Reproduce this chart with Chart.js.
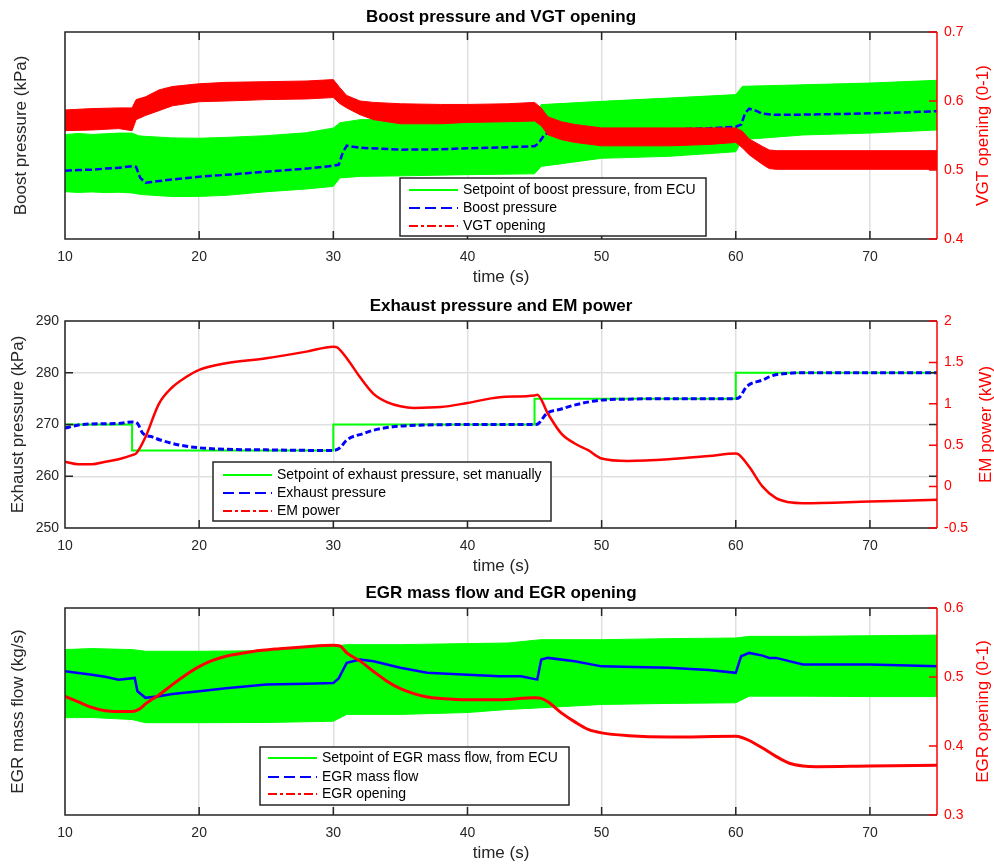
<!DOCTYPE html>
<html>
<head>
<meta charset="utf-8">
<script src="https://cdn.jsdelivr.net/npm/chart.js@4.4.1/dist/chart.umd.min.js"></script>
<style>
  body { margin: 0; background: #fff; }
  .panel { position: absolute; left: 0; width: 994px; height: 288px; }
</style>
</head>
<body>
<div class="panel" style="top:0"><canvas id="boost" width="994" height="288"></canvas></div>
<div class="panel" style="top:289px"><canvas id="exhaust" width="994" height="288"></canvas></div>
<div class="panel" style="top:576px"><canvas id="egr" width="994" height="288"></canvas></div>
<script>
// ---- boost pressure / VGT ----
const boostSetTime = [10, 11, 12, 13, 14, 15, 15.5, 16, 18, 20, 22, 25, 28, 30, 30.5, 32, 35, 40, 45, 45.5, 50, 55, 60, 60.5, 65, 70, 75];
const boostSetHigh = [180.5, 181.2, 180.6, 181.0, 181.4, 181.4, 179.8, 179.5, 178.6, 178.4, 178.9, 179.9, 181.6, 184.3, 187.4, 189.2, 189.3, 189.6, 190.2, 197.9, 199.8, 201.7, 203.7, 208.5, 209.4, 210.4, 212.0];
const boostSetLow = [147.4, 147.0, 147.3, 146.9, 147.1, 146.7, 146.0, 145.6, 144.6, 144.7, 145.3, 147.4, 149.0, 150.5, 155.4, 156.3, 156.6, 157.3, 157.8, 162.1, 166.8, 167.9, 170.6, 177.6, 180.3, 181.4, 183.2];

const boostTime = [10, 11, 12, 13, 14, 15, 15.3, 15.6, 16, 17, 18, 20, 22, 25, 28, 30, 30.4, 30.7, 31, 32, 35, 38, 40, 43, 45, 45.3, 45.7, 46, 48, 50, 55, 58, 60, 60.4, 60.7, 61, 61.5, 62, 63, 65, 68, 70, 73, 75];
const boostKpa = [159.6, 160.0, 160.2, 160.8, 161.3, 162.2, 161.8, 155.5, 152.6, 153.6, 154.5, 156.1, 157.2, 159.0, 160.8, 162.5, 163.0, 170.0, 174.1, 172.9, 171.8, 172.0, 172.6, 173.2, 173.8, 175.5, 180.0, 181.6, 181.8, 182.2, 183.4, 184.2, 185.1, 186.3, 193.0, 195.5, 194.4, 192.6, 192.0, 192.1, 192.5, 192.9, 193.5, 194.1];

const vgtTime = [10, 12, 14, 15, 15.3, 16, 17, 18, 20, 22, 25, 28, 30, 30.5, 31, 32, 33, 35, 38, 40, 43, 45, 45.5, 46, 47, 48, 50, 55, 58, 60, 60.5, 61, 62, 62.5, 63, 65, 70, 75];
const vgtHigh = [0.587, 0.589, 0.590, 0.590, 0.602, 0.606, 0.616, 0.621, 0.625, 0.627, 0.628, 0.629, 0.631, 0.619, 0.608, 0.600, 0.598, 0.596, 0.595, 0.595, 0.596, 0.598, 0.590, 0.577, 0.570, 0.566, 0.561, 0.561, 0.561, 0.561, 0.556, 0.545, 0.534, 0.529, 0.528, 0.528, 0.528, 0.528];
const vgtLow = [0.557, 0.558, 0.560, 0.557, 0.573, 0.579, 0.586, 0.593, 0.599, 0.600, 0.602, 0.603, 0.605, 0.596, 0.590, 0.580, 0.573, 0.567, 0.567, 0.569, 0.570, 0.571, 0.564, 0.551, 0.544, 0.540, 0.535, 0.535, 0.537, 0.540, 0.532, 0.522, 0.508, 0.502, 0.501, 0.501, 0.501, 0.501];

// ---- exhaust pressure / EM power ----
const exhSetTime = [10, 15, 30, 45, 60, 75];
const exhSetKpa = [270, 265, 270, 275, 280, 280];

const exhTime = [10, 11, 12, 14, 15, 15.4, 15.8, 16.5, 17.1, 18.6, 20, 22, 25, 28, 30, 30.5, 31, 32.3, 33, 34, 35, 37, 40, 45, 45.3, 45.9, 47, 47.9, 49.9, 52, 55, 60, 60.3, 60.8, 62, 62.8, 64, 65, 70, 75];
const exhKpa = [269.3, 269.9, 270.1, 270.2, 270.5, 270.2, 268.3, 267.6, 267.0, 266.0, 265.5, 265.2, 265.1, 265.0, 265.0, 265.5, 267.0, 268.3, 268.9, 269.4, 269.7, 269.9, 270.0, 270.0, 270.2, 272.1, 273.0, 273.7, 274.7, 274.9, 275.0, 275.0, 275.3, 277.3, 278.6, 279.5, 279.9, 280.0, 280.0, 280.0];

const emTime = [10, 11, 12, 13, 14, 15, 15.3, 16, 17, 18, 19, 20, 22, 25, 28, 30, 30.3, 31, 32, 33, 34, 35, 36, 38, 40, 42.4, 45, 45.2, 46, 47, 48, 49, 50, 52, 55, 58, 60, 60.2, 61, 62, 63, 64, 65, 70, 75];
const emKw = [0.30, 0.27, 0.27, 0.30, 0.33, 0.38, 0.40, 0.60, 1.00, 1.20, 1.32, 1.41, 1.49, 1.55, 1.63, 1.69, 1.68, 1.55, 1.32, 1.12, 1.02, 0.97, 0.95, 0.96, 1.01, 1.08, 1.10, 1.11, 0.88, 0.64, 0.52, 0.44, 0.34, 0.31, 0.33, 0.37, 0.40, 0.39, 0.24, 0.00, -0.14, -0.19, -0.20, -0.18, -0.16];

// ---- EGR mass flow / EGR opening ----
const egrSetTime = [10, 12, 15, 16, 20, 25, 30, 31, 35, 40, 43, 45.5, 50, 55, 60, 61, 65, 70, 75];
const egrSetHigh = [0.0799, 0.0804, 0.0799, 0.0791, 0.0791, 0.0794, 0.0815, 0.0823, 0.0823, 0.0828, 0.0831, 0.0847, 0.0847, 0.0852, 0.0855, 0.0863, 0.0863, 0.0866, 0.0869];
const egrSetLow = [0.0470, 0.0471, 0.0461, 0.0446, 0.0446, 0.0447, 0.0453, 0.0486, 0.0486, 0.0495, 0.0510, 0.0518, 0.0534, 0.0539, 0.0542, 0.0574, 0.0574, 0.0572, 0.0572];

const egrFlowTime = [10, 11, 12, 13, 14, 15.2, 15.4, 16, 17, 18, 20, 22, 25, 28, 30, 30.4, 31, 32, 33, 35, 37, 40, 42.4, 44, 45.2, 45.5, 46, 48, 50, 55, 58, 60, 60.4, 61, 62, 62.5, 63, 65, 70, 75];
const egrFlow = [0.0694, 0.0686, 0.0678, 0.0668, 0.0654, 0.0662, 0.0598, 0.0566, 0.0574, 0.0584, 0.0598, 0.0612, 0.0630, 0.0634, 0.0638, 0.0660, 0.0735, 0.0751, 0.0743, 0.0711, 0.0687, 0.0678, 0.0670, 0.0670, 0.0654, 0.0751, 0.0759, 0.0743, 0.0718, 0.0711, 0.0700, 0.0687, 0.0767, 0.0783, 0.0770, 0.0759, 0.0759, 0.0727, 0.0727, 0.0718];

const egrPosTime = [10, 11, 12, 13, 14, 15, 15.5, 16, 17, 18, 19, 20, 21, 22, 24, 26, 28, 30, 30.5, 31, 32, 33, 34, 35, 36, 37, 38, 40, 42.4, 45, 45.5, 46, 47, 48, 49, 50, 52, 55, 60, 60.5, 61, 62, 63, 64, 65, 66, 70, 75];
const egrPos = [0.472, 0.464, 0.456, 0.451, 0.450, 0.450, 0.453, 0.461, 0.474, 0.489, 0.503, 0.515, 0.524, 0.530, 0.537, 0.541, 0.544, 0.546, 0.545, 0.535, 0.523, 0.508, 0.494, 0.483, 0.476, 0.471, 0.469, 0.467, 0.467, 0.470, 0.469, 0.464, 0.448, 0.435, 0.424, 0.419, 0.415, 0.413, 0.414, 0.412, 0.408, 0.397, 0.385, 0.375, 0.371, 0.370, 0.371, 0.372];

const boostLabels = ["Setpoint of boost pressure, from ECU", "Boost pressure", "VGT opening"];
const exhLabels = ["Setpoint of exhaust pressure, set manually", "Exhaust pressure", "EM power"];
const egrLabels = ["Setpoint of EGR mass flow, from ECU", "EGR mass flow", "EGR opening"];

const FONT = '"Liberation Sans", Arial, Helvetica, sans-serif';
const DARK = "#262626";
const GRID = "#e0e0e0";
const GREEN = "#00ff00", BLUE = "#0000ff", RED = "#ff0000";
const DASH = [11, 5], DASHDOT = [9, 3, 3, 3];

Chart.defaults.font.family = FONT;
Chart.defaults.color = DARK;

function pts(t, v) {
  return t.map((x, i) => ({ x: x, y: v[i] }));
}

// box, inward ticks, axis titles and legend in the MATLAB look
const axesFrame = {
  id: "axesFrame",
  afterDatasetsDraw(chart, args, opts) {
    const ctx = chart.ctx;
    const { left, right, top, bottom } = chart.chartArea;
    const sx = chart.scales.x, yl = chart.scales.yl, yr = chart.scales.yr;
    ctx.save();
    ctx.lineWidth = 1.5;
    ctx.strokeStyle = DARK;
    ctx.beginPath();
    sx.ticks.forEach((tk) => {
      const px = sx.getPixelForValue(tk.value);
      ctx.moveTo(px, bottom); ctx.lineTo(px, bottom - 8);
      ctx.moveTo(px, top); ctx.lineTo(px, top + 8);
    });
    if (opts.leftTicks) {
      yl.ticks.forEach((tk) => {
        const py = yl.getPixelForValue(tk.value);
        ctx.moveTo(left, py); ctx.lineTo(left + 8, py);
        ctx.moveTo(right, py); ctx.lineTo(right - 8, py);
      });
    }
    ctx.moveTo(right, top); ctx.lineTo(left, top);
    ctx.lineTo(left, bottom); ctx.lineTo(right, bottom);
    ctx.stroke();

    ctx.strokeStyle = RED;
    ctx.beginPath();
    ctx.moveTo(right, top); ctx.lineTo(right, bottom);
    yr.ticks.forEach((tk) => {
      const py = yr.getPixelForValue(tk.value);
      ctx.moveTo(right, py); ctx.lineTo(right - 8, py);
    });
    ctx.stroke();
    ctx.restore();
  },
  afterDraw(chart, args, opts) {
    const ctx = chart.ctx;
    const { left, right, top, bottom } = chart.chartArea;
    const cy = (top + bottom) / 2;
    ctx.save();
    ctx.font = "17px " + FONT;
    ctx.textAlign = "center";
    ctx.textBaseline = "middle";
    ctx.fillStyle = DARK;
    ctx.fillText("time (s)", (left + right) / 2, 277);

    ctx.save();
    ctx.translate(opts.leftTitleX, cy);
    ctx.rotate(-Math.PI / 2);
    ctx.fillText(opts.leftTitle, 0, 0);
    ctx.restore();

    ctx.save();
    ctx.fillStyle = RED;
    ctx.translate(opts.rightTitleX, cy);
    ctx.rotate(-Math.PI / 2);
    ctx.fillText(opts.rightTitle, 0, 0);
    ctx.restore();

    // legend
    const lg = opts.legend;
    ctx.fillStyle = "#fff";
    ctx.fillRect(lg.x, lg.y, lg.w, lg.h);
    ctx.lineWidth = 1.5;
    ctx.strokeStyle = DARK;
    ctx.strokeRect(lg.x, lg.y, lg.w, lg.h);
    const styles = [[GREEN, []], [BLUE, DASH], [RED, DASHDOT]];
    ctx.font = "14px " + FONT;
    ctx.textAlign = "left";
    lg.labels.forEach((label, i) => {
      const y = lg.y + lg.rows[i];
      ctx.strokeStyle = styles[i][0];
      ctx.setLineDash(styles[i][1]);
      ctx.lineWidth = 2;
      ctx.beginPath();
      ctx.moveTo(lg.x + lg.lineX, y);
      ctx.lineTo(lg.x + lg.lineX + 49, y);
      ctx.stroke();
      ctx.setLineDash([]);
      ctx.fillStyle = "#000";
      ctx.fillText(label, lg.x + lg.lineX + 54, y);
    });
    ctx.restore();
  },
};

function fixWidth(w) {
  return (scale) => { scale.width = w; };
}

function makePanel(id, cfg) {
  return new Chart(document.getElementById(id), {
    type: "line",
    data: { datasets: cfg.datasets },
    plugins: [axesFrame],
    options: {
      responsive: false,
      animation: false,
      events: [],
      devicePixelRatio: 1,
      layout: { padding: 0 },
      elements: { point: { radius: 0 } },
      scales: {
        x: {
          type: "linear",
          min: 10,
          max: 75,
          afterBuildTicks: (s) => { s.ticks = s.ticks.filter((t) => t.value % 10 === 0); },
          afterFit: (s) => { s.height = 49; },
          ticks: { stepSize: 10, padding: 10, color: DARK, font: { size: 14 } },
          grid: { color: GRID, lineWidth: 1.5, drawTicks: false },
          border: { display: false },
        },
        yl: {
          position: "left",
          min: cfg.left.min,
          max: cfg.left.max,
          afterFit: fixWidth(65),
          ticks: {
            display: cfg.left.ticks,
            stepSize: cfg.left.step,
            padding: 6,
            color: DARK,
            font: { size: 14 },
          },
          grid: { display: cfg.left.ticks, color: GRID, lineWidth: 1.5, drawTicks: false },
          border: { display: false },
        },
        yr: {
          position: "right",
          min: cfg.right.min,
          max: cfg.right.max,
          afterFit: fixWidth(57),
          ticks: {
            stepSize: cfg.right.step,
            padding: 7,
            color: RED,
            font: { size: 14 },
            callback: (v) => String(+v.toFixed(1)),
          },
          grid: { drawOnChartArea: false, drawTicks: false },
          border: { display: false },
        },
      },
      plugins: {
        legend: { display: false },
        tooltip: { enabled: false },
        title: {
          display: true,
          fullSize: false,
          text: cfg.title,
          color: "#000",
          font: { size: 17, weight: "bold" },
          padding: { top: 7, bottom: 4.6 },
        },
        axesFrame: cfg.frame,
      },
    },
  });
}

function band(t, hi, lo, color, axis, order) {
  return [
    { data: pts(t, hi), yAxisID: axis, borderColor: color, borderWidth: 1, backgroundColor: color, fill: "+1", order: order },
    { data: pts(t, lo), yAxisID: axis, borderColor: color, borderWidth: 1, fill: false, order: order },
  ];
}

// index layout for "+1" fills: band pairs are kept adjacent
makePanel("boost", {
  title: "Boost pressure and VGT opening",
  left: { min: 120, max: 240, ticks: false },
  right: { min: 0.4, max: 0.7, step: 0.1 },
  datasets: [
    ...band(vgtTime, vgtHigh, vgtLow, RED, "yr", 0),
    { data: pts(boostTime, boostKpa), yAxisID: "yl", borderColor: BLUE, borderWidth: 2.5, borderDash: [7, 3], fill: false, order: 1 },
    ...band(boostSetTime, boostSetHigh, boostSetLow, GREEN, "yl", 2),
  ],
  frame: {
    leftTitle: "Boost pressure (kPa)", leftTitleX: 21,
    rightTitle: "VGT opening (0-1)", rightTitleX: 983,
    leftTicks: false,
    legend: { x: 400, y: 178, w: 306, h: 58, rows: [12, 30, 48], lineX: 9, labels: boostLabels },
  },
});

makePanel("exhaust", {
  title: "Exhaust pressure and EM power",
  left: { min: 250, max: 290, step: 10, ticks: true },
  right: { min: -0.5, max: 2, step: 0.5 },
  datasets: [
    { data: pts(emTime, emKw), yAxisID: "yr", borderColor: RED, borderWidth: 2.5, cubicInterpolationMode: "monotone", fill: false, order: 0 },
    { data: pts(exhTime, exhKpa), yAxisID: "yl", borderColor: BLUE, borderWidth: 3, borderDash: [6, 3], cubicInterpolationMode: "monotone", fill: false, order: 1 },
    { data: pts(exhSetTime, exhSetKpa), yAxisID: "yl", borderColor: GREEN, borderWidth: 2, stepped: true, fill: false, order: 2 },
  ],
  frame: {
    leftTitle: "Exhaust pressure (kPa)", leftTitleX: 18,
    rightTitle: "EM power (kW)", rightTitleX: 986,
    leftTicks: true,
    legend: { x: 213, y: 173, w: 338, h: 59, rows: [13, 31, 49], lineX: 10, labels: exhLabels },
  },
});

makePanel("egr", {
  title: "EGR mass flow and EGR opening",
  left: { min: 0, max: 0.1, ticks: false },
  right: { min: 0.3, max: 0.6, step: 0.1 },
  datasets: [
    { data: pts(egrPosTime, egrPos), yAxisID: "yr", borderColor: RED, borderWidth: 3, cubicInterpolationMode: "monotone", fill: false, order: 0 },
    { data: pts(egrFlowTime, egrFlow), yAxisID: "yl", borderColor: BLUE, borderWidth: 2.5, fill: false, order: 1 },
    ...band(egrSetTime, egrSetHigh, egrSetLow, GREEN, "yl", 2),
  ],
  frame: {
    leftTitle: "EGR mass flow (kg/s)", leftTitleX: 18,
    rightTitle: "EGR opening (0-1)", rightTitleX: 983,
    leftTicks: false,
    legend: { x: 260, y: 171, w: 309, h: 58, rows: [11, 30, 47], lineX: 8, labels: egrLabels },
  },
});
</script>
</body>
</html>
